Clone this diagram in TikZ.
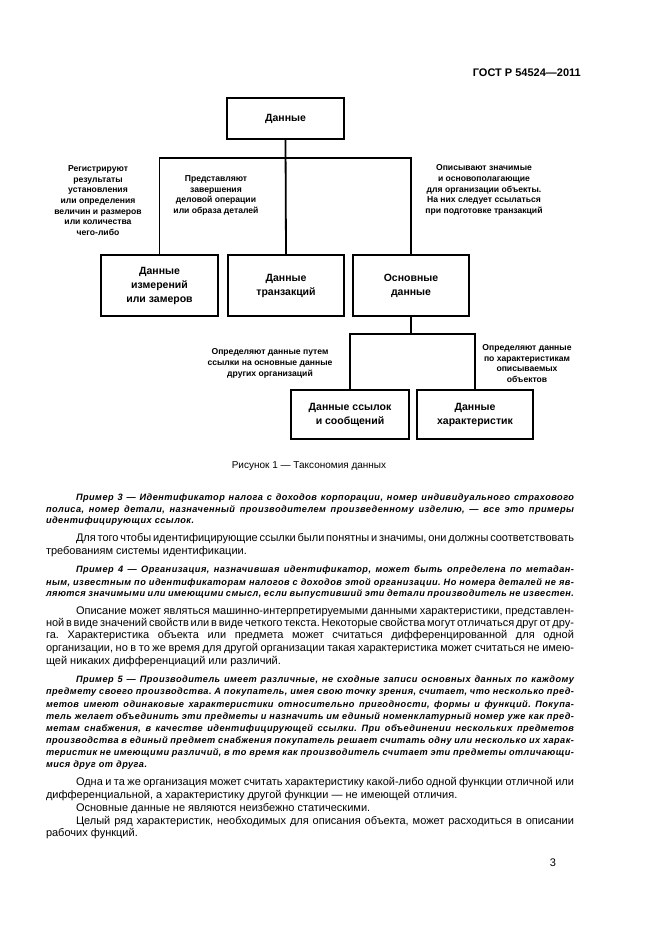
\documentclass[tikz,border=0pt]{standalone}
\usepackage{fontspec}
\setmainfont{Liberation Sans}
\newfontfamily\exfont[LetterSpace=5]{Liberation Sans}
\frenchspacing
\tikzset{
  box/.style={draw=black, line width=1.8pt, inner sep=0pt, align=center,
    font=\fontsize{10.5}{14}\selectfont\bfseries},
  lbl/.style={align=center, inner sep=0pt, font=\fontsize{8.6}{10.7}\selectfont\bfseries},
  conn/.style={line width=1.8pt},
  bodytxt/.style={inner sep=0pt, outer sep=0pt, font=\fontsize{11}{13}\selectfont},
  extxt/.style={inner sep=0pt, outer sep=0pt, font=\exfont\bfseries\itshape\fontsize{9.2}{11}\selectfont},
}
\newcommand\jline[5]{\node[#1,anchor=base west] (#2) at (#3) {\hbox to #4pt{\frenchspacing\spaceskip=.2em plus 3em minus .1em\relax #5}};}
\newcommand\eline[4]{\node[#1,anchor=base west] (#2) at (#3) {\frenchspacing #4};}
\begin{document}
\begin{tikzpicture}[x=1pt,y=-1pt]
\fill[white] (0,0) rectangle (661,936);
\useasboundingbox (0,0) rectangle (661,936);

% header
\node[anchor=base east, inner sep=0pt, font=\fontsize{11}{13}\selectfont\bfseries] (hdr) at (581,77) {ГОСТ Р 54524—2011};

% diagram boxes
\node[box, minimum width=117pt, minimum height=41pt] (dan) at (285.5,118.5) {Данные};
\node[box, minimum width=117pt, minimum height=61pt] (izm) at (159.5,285.5) {Данные\\измерений\\или замеров};
\node[box, minimum width=116pt, minimum height=61pt] (tr) at (286,285.5) {Данные\\транзакций};
\node[box, minimum width=116pt, minimum height=61pt] (osn) at (411,285.5) {Основные\\данные};
\node[box, minimum width=118pt, minimum height=49pt] (ssy) at (350,414.5) {Данные ссылок\\и сообщений};
\node[box, minimum width=116pt, minimum height=49pt] (har) at (475,414.5) {Данные\\характеристик};

\coordinate (b1) at (286,158);
\coordinate (b2) at (411,334);
\draw[conn] (dan.south) -- (tr.north);
\draw[conn] (izm.north) |- (b1) -| (osn.north);
\draw[conn] (osn.south) -- (b2);
\draw[conn] (ssy.north) |- (b2) -| (har.north);

% labels
\node[lbl] (l1) at (98,200.5) {Регистрируют\\результаты\\установления\\или определения\\величин и размеров\\или количества\\чего-либо};
\node[lbl] (l2) at (216,195.5) {Представляют\\завершения\\деловой операции\\или образа деталей};
\node[lbl] (l3) at (484,190) {Описывают значимые\\и основополагающие\\для организации объекты.\\На них следует ссылаться\\при подготовке транзакций};
\node[lbl] (l4) at (270,363.5) {Определяют данные путем\\ссылки на основные данные\\других организаций};
\node[lbl] (l5) at (527,363.5) {Определяют данные\\по характеристикам\\описываемых\\объектов};

\node[inner sep=0pt, font=\fontsize{10}{12}\selectfont] (cap) at (309,466.5) {Рисунок 1 — Таксономия данных};

% body text
\jline{extxt}{p3a}{76,500.7}{498}{Пример 3 — Идентификатор налога с доходов корпорации, номер индивидуального страхового}
\jline{extxt}{p3b}{46,512}{528}{полиса, номер детали, назначенный производителем произведенному изделию, — все это примеры}
\eline{extxt}{p3c}{46,523}{идентифицирующих ссылок.}

\jline{bodytxt}{q1a}{76,541.5}{498}{Для того чтобы идентифицирующие ссылки были понятны и значимы, они должны соответствовать}
\eline{bodytxt}{q1b}{46,554.5}{требованиям системы идентификации.}

\jline{extxt}{p4a}{76,572}{498}{Пример 4 — Организация, назначившая идентификатор, может быть определена по метадан-}
\jline{extxt}{p4b}{46,585}{528}{ным, известным по идентификаторам налогов с доходов этой организации. Но номера деталей не яв-}
\jline{extxt}{p4c}{46,596}{528}{ляются значимыми или имеющими смысл, если выпустивший эти детали производитель не известен.}

\jline{bodytxt}{q2a}{76,614.5}{498}{Описание может являться машинно-интерпретируемыми данными характеристики, представлен-}
\jline{bodytxt}{q2b}{46,626.5}{528}{ной в виде значений свойств или в виде четкого текста. Некоторые свойства могут отличаться друг от дру-}
\jline{bodytxt}{q2c}{46,638.5}{528}{га. Характеристика объекта или предмета может считаться дифференцированной для одной}
\jline{bodytxt}{q2d}{46,651.5}{528}{организации, но в то же время для другой организации такая характеристика может считаться не имею-}
\eline{bodytxt}{q2e}{46,664.5}{щей никаких дифференциаций или различий.}

\jline{extxt}{p5a}{76,682}{498}{Пример 5 — Производитель имеет различные, не сходные записи основных данных по каждому}
\jline{extxt}{p5b}{46,694}{528}{предмету своего производства. А покупатель, имея свою точку зрения, считает, что несколько пред-}
\jline{extxt}{p5c}{46,707}{528}{метов имеют одинаковые характеристики относительно пригодности, формы и функций. Покупа-}
\jline{extxt}{p5d}{46,719}{528}{тель желает объединить эти предметы и назначить им единый номенклатурный номер уже как пред-}
\jline{extxt}{p5e}{46,731}{528}{метам снабжения, в качестве идентифицирующей ссылки. При объединении нескольких предметов}
\jline{extxt}{p5f}{46,743}{528}{производства в единый предмет снабжения покупатель решает считать одну или несколько их харак-}
\jline{extxt}{p5g}{46,755}{528}{теристик не имеющими различий, в то время как производитель считает эти предметы отличающи-}
\eline{extxt}{p5h}{46,767}{мися друг от друга.}

\jline{bodytxt}{q3a}{76,785.5}{498}{Одна и та же организация может считать характеристику какой-либо одной функции отличной или}
\eline{bodytxt}{q3b}{46,798.5}{дифференциальной, а характеристику другой функции — не имеющей отличия.}
\eline{bodytxt}{q4a}{76,811.5}{Основные данные не являются неизбежно статическими.}
\jline{bodytxt}{q5a}{76,824}{498}{Целый ряд характеристик, необходимых для описания объекта, может расходиться в описании}
\eline{bodytxt}{q5b}{46,836.5}{рабочих функций.}

\node[bodytxt, anchor=base] (pg) at (553,866) {3};
\end{tikzpicture}
\end{document}
